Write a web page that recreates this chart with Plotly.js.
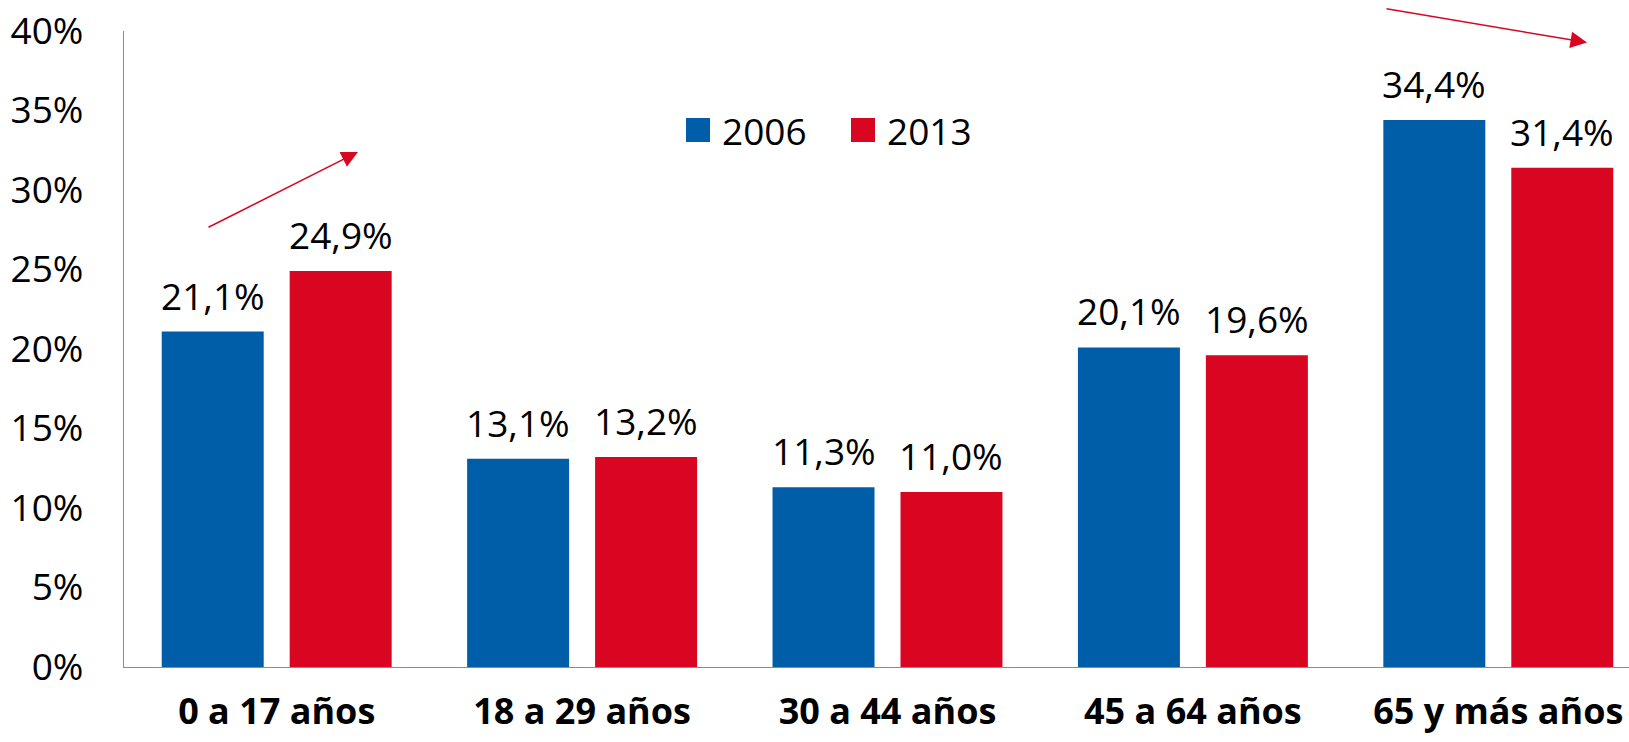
<!DOCTYPE html>
<html>
<head>
<meta charset="utf-8">
<script src="https://cdn.plot.ly/plotly-3.0.1.min.js"></script>
<style>html,body{margin:0;padding:0;background:#fff;}#chart{width:1629px;height:742px;}</style>
</head>
<body>
<div id="chart"></div>
<script>
const categories = ['0 a 17 años', '18 a 29 años', '30 a 44 años', '45 a 64 años', '65 y más años'];
const seriesNames = ['2006', '2013'];
const values2006 = [21.1, 13.1, 11.3, 20.1, 34.4];
const values2013 = [24.9, 13.2, 11.0, 19.6, 31.4];
const colors = ['#005DA8', '#D90621'];
const yTicks = [0, 5, 10, 15, 20, 25, 30, 35, 40];

const W = 1629, H = 742;
const M = {l: 124, r: 0, t: 31, b: 75};
const plotW = W - M.l - M.r, plotH = H - M.t - M.b;
const px = x => (x - M.l) / plotW;
const py = y => (H - M.b - y) / plotH;

const BARGAP = 0.162, GROUPGAP = 0.203;
const slot = (1 - BARGAP) / 2;
const FONT = 'Open Sans, Liberation Sans, sans-serif';
const FS = 37;

const series = [values2006, values2013];
const traces = series.map((vals, s) => ({
  type: 'bar',
  name: seriesNames[s],
  x: categories,
  y: vals,
  marker: {color: colors[s], line: {width: 0}},
  showlegend: false,
  hoverinfo: 'skip'
}));

const annotations = [];
series.forEach((vals, s) => {
  vals.forEach((v, i) => {
    annotations.push({
      xref: 'x', yref: 'y',
      x: i + (s === 0 ? -slot / 2 : slot / 2),
      y: v,
      text: v.toFixed(1).replace('.', ',') + '%',
      showarrow: false,
      yanchor: 'bottom',
      yshift: 9,
      font: {family: FONT, size: FS, color: '#000'}
    });
  });
});

// legend (custom, larger swatches)
const legendItems = [{sq: 686, tx: 720}, {sq: 851, tx: 885}];
const shapes = [];
legendItems.forEach((it, s) => {
  shapes.push({
    type: 'rect', xref: 'paper', yref: 'paper',
    x0: px(it.sq), x1: px(it.sq + 24), y0: py(142), y1: py(118),
    fillcolor: colors[s], line: {width: 0}
  });
  annotations.push({
    xref: 'paper', yref: 'paper', x: px(it.tx), y: py(130),
    xanchor: 'left', yanchor: 'middle', showarrow: false,
    text: seriesNames[s],
    font: {family: FONT, size: FS, color: '#000'}
  });
});

// trend arrows
annotations.push({
  xref: 'paper', yref: 'paper', x: px(358), y: py(152),
  ax: 207 - 358, ay: 228 - 152, axref: 'pixel', ayref: 'pixel',
  text: '', showarrow: true, arrowhead: 2, arrowsize: 2.2, arrowwidth: 1.5,
  arrowcolor: '#D90621', standoff: 0
});
annotations.push({
  xref: 'paper', yref: 'paper', x: px(1587), y: py(42.5),
  ax: 1385 - 1587, ay: 8.5 - 42.5, axref: 'pixel', ayref: 'pixel',
  text: '', showarrow: true, arrowhead: 2, arrowsize: 2.2, arrowwidth: 1.5,
  arrowcolor: '#D90621', standoff: 0
});

const layout = {
  width: W, height: H,
  margin: M,
  paper_bgcolor: '#fff', plot_bgcolor: '#fff',
  barmode: 'group', bargap: BARGAP, bargroupgap: GROUPGAP,
  separators: ',.',
  font: {family: FONT, color: '#000'},
  xaxis: {
    type: 'category',
    range: [-0.5, -0.5 + plotW / 305.4],
    showline: true, linecolor: '#8C8C8C', linewidth: 1.2,
    showgrid: false, zeroline: false, ticks: '',
    ticklabelstandoff: 13,
    tickfont: {family: FONT, size: 36, color: '#000', weight: 'bold'},
    fixedrange: true
  },
  yaxis: {
    range: [0, 40],
    tickvals: yTicks,
    ticktext: yTicks.map(t => t + '%'),
    showline: true, linecolor: '#8C8C8C', linewidth: 1.2,
    showgrid: false, zeroline: false, ticks: '',
    ticklabelstandoff: 32,
    tickfont: {family: FONT, size: FS, color: '#000'},
    fixedrange: true
  },
  shapes: shapes,
  annotations: annotations,
  showlegend: false
};

Plotly.newPlot('chart', traces, layout, {displayModeBar: false, staticPlot: true});
</script>
</body>
</html>
